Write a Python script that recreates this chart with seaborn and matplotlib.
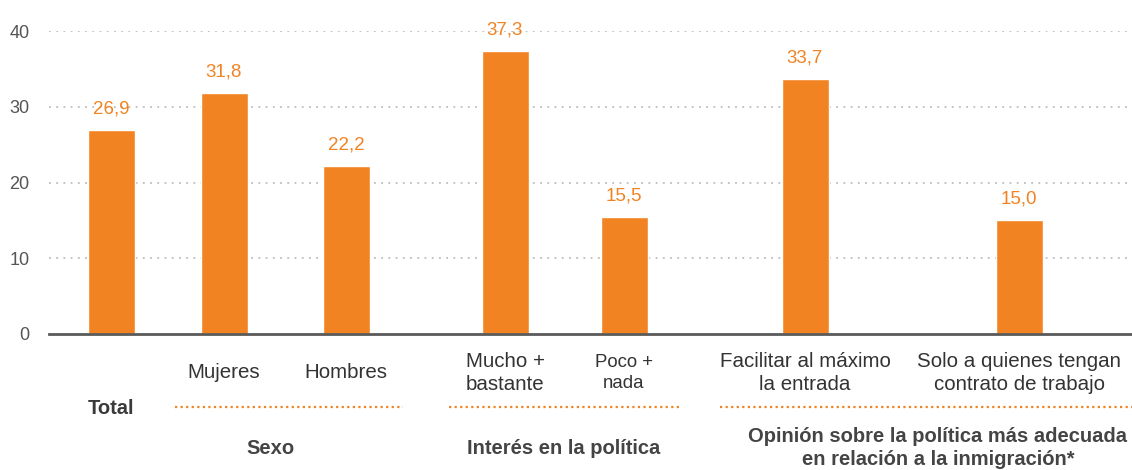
import matplotlib
matplotlib.use("Agg")
import matplotlib.pyplot as plt
import matplotlib.transforms as mtransforms
from matplotlib.lines import Line2D
import seaborn as sns
import pandas as pd

# Data
categories = ["Total", "Mujeres", "Hombres", "Mucho +\nbastante", "Poco +\nnada",
              "Facilitar al máximo\nla entrada", "Solo a quienes tengan\ncontrato de trabajo"]
values = [26.9, 31.8, 22.2, 37.3, 15.5, 33.7, 15.0]
groups = ["Sexo", "Interés en la política",
          "Opinión sobre la política más adecuada\nen relación a la inmigración*"]
yticks = [0, 10, 20, 30, 40]

# Layout (horizontal positions in pixel units of the 1132 px wide canvas)
W, H = 1132, 470
bar_pos = [111, 224, 346, 505, 624, 805, 1019]
bar_px = 47
group_lines = [(175, 403), (449, 680), (720, 1132)]
group_x = [270, 564, 938]

ORANGE = "#F28323"
DARK = "#333333"
GREY = "#555555"

sns.set_style("white")
plt.rcParams["font.family"] = ["Liberation Sans", "DejaVu Sans"]

fig = plt.figure(figsize=(W / 100, H / 100), dpi=100)
ax = fig.add_axes([49 / W, (H - 334) / H, 1 - 49 / W, (334 - 31) / H])

df = pd.DataFrame({"pos": bar_pos, "valor": values})
min_gap = min(b - a for a, b in zip(bar_pos[:-1], bar_pos[1:]))
sns.barplot(data=df, x="pos", y="valor", native_scale=True, color=ORANGE,
            saturation=1, width=bar_px / min_gap, ax=ax, errorbar=None)

ax.set_xlim(49, W)
ax.set_ylim(0, 40)
ax.set_xlabel("")
ax.set_ylabel("")
ax.set_xticks([])
ax.set_yticks(yticks)
ax.set_yticklabels([str(t) for t in yticks], fontsize=13, color=GREY)
ax.tick_params(axis="y", length=0, pad=14)

# Dotted horizontal grid, solid baseline
for t in yticks[1:]:
    ax.axhline(t, color="#bdbdbd", lw=1.3, ls=(0, (1, 3)), zorder=0)
for s in ["top", "right", "left"]:
    ax.spines[s].set_visible(False)
ax.spines["bottom"].set_color("#5a5a5a")
ax.spines["bottom"].set_linewidth(2)
ax.spines["bottom"].set_zorder(5)

# Value labels with comma decimals
for cont in ax.containers:
    ax.bar_label(cont, labels=[f"{v:.1f}".replace(".", ",") for v in values],
                 padding=9, color=ORANGE, fontsize=13.5)

# Category labels below the axis
fig_y = lambda py: (H - py) / H
trans = mtransforms.blended_transform_factory(ax.transData, fig.transFigure)
for i, (lab, x) in enumerate(zip(categories, bar_pos)):
    if i == 0:
        ax.text(x, fig_y(408), lab, transform=trans, ha="center", va="center",
                fontsize=14.5, fontweight="bold", color="#3a3a3a")
        continue
    size = 13.4 if i == 4 else 14.8
    ax.text(x, fig_y(373), lab, transform=trans, ha="center", va="center",
            fontsize=size, color=DARK, linespacing=1.3, multialignment="center")

# Group underlines and titles
for (x0, x1) in group_lines:
    fig.add_artist(Line2D([x0 / W, x1 / W], [fig_y(407)] * 2, color=ORANGE,
                          lw=1.6, ls=(0, (1, 1.5)), transform=fig.transFigure))
for g, x in zip(groups, group_x):
    fig.text(x / W, fig_y(448), g, ha="center", va="center", fontsize=14.5,
             fontweight="bold", color="#444444", linespacing=1.25)

fig.savefig("out.png", dpi=100)
